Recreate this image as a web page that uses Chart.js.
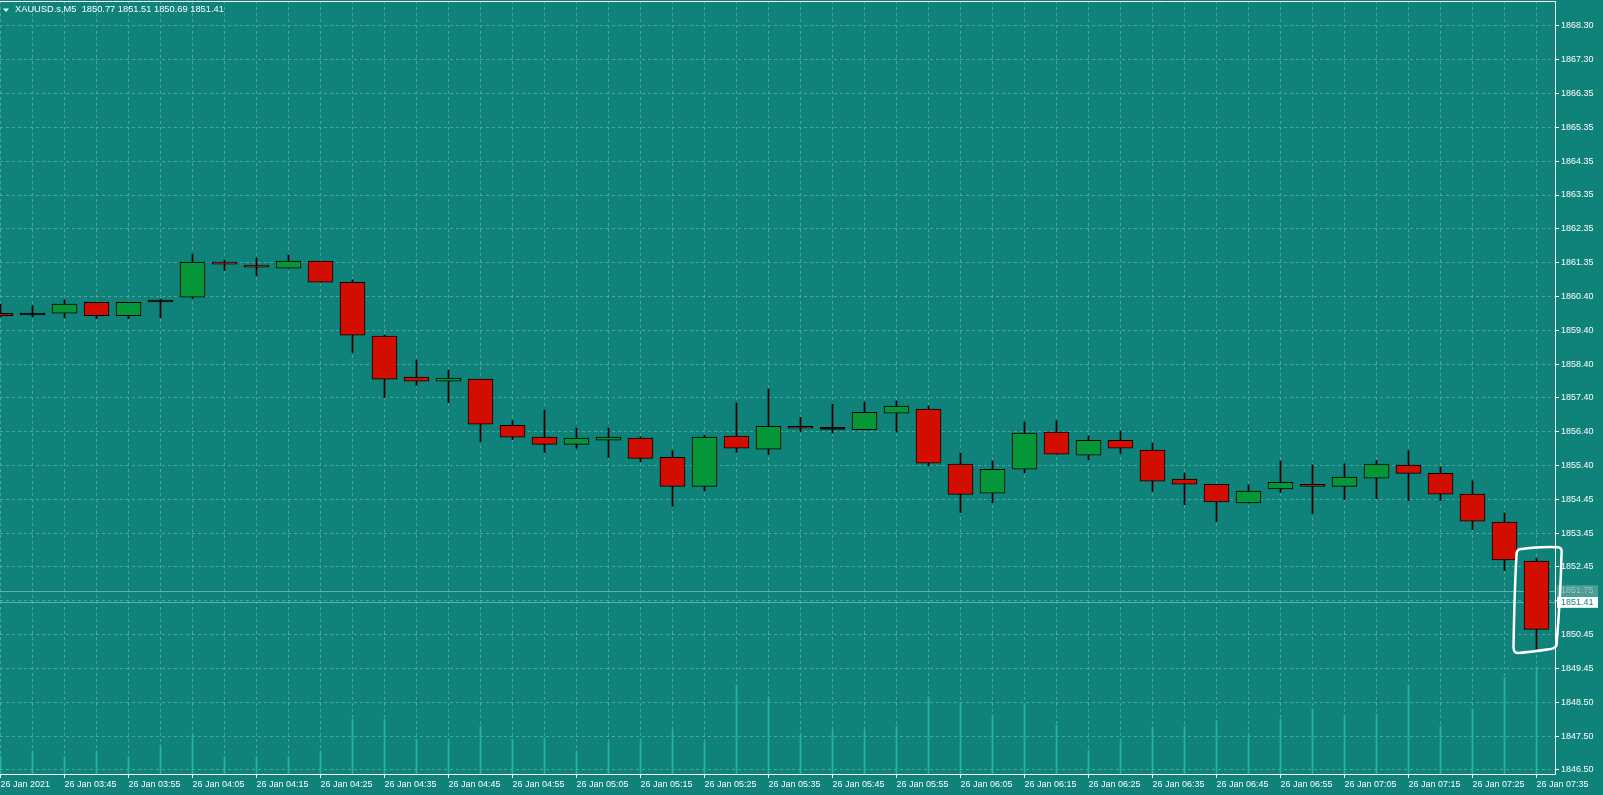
<!DOCTYPE html>
<html>
<head>
<meta charset="utf-8">
<script src="https://cdn.jsdelivr.net/npm/chart.js@4/dist/chart.umd.min.js"></script>
<style>
  html, body { margin: 0; padding: 0; background: #0f8279; overflow: hidden; }
  #wrap { position: relative; width: 1603px; height: 795px; }
</style>
</head>
<body>
<div id="wrap"><canvas id="chart"></canvas></div>
<script>
// header line
const symbol = "XAUUSD.s,M5";
const headerQuote = ["1850.77", "1851.51", "1850.69", "1851.41"];

// x axis labels, one every second bar
const timeLabels = [
  "26 Jan 2021", "26 Jan 03:45", "26 Jan 03:55", "26 Jan 04:05", "26 Jan 04:15",
  "26 Jan 04:25", "26 Jan 04:35", "26 Jan 04:45", "26 Jan 04:55", "26 Jan 05:05",
  "26 Jan 05:15", "26 Jan 05:25", "26 Jan 05:35", "26 Jan 05:45", "26 Jan 05:55",
  "26 Jan 06:05", "26 Jan 06:15", "26 Jan 06:25", "26 Jan 06:35", "26 Jan 06:45",
  "26 Jan 06:55", "26 Jan 07:05", "26 Jan 07:15", "26 Jan 07:25", "26 Jan 07:35"
];

// price axis labels, top to bottom (one per grid line)
const yTickLabels = [
  "1868.30", "1867.30", "1866.35", "1865.35", "1864.35", "1863.35", "1862.35", "1861.35",
  "1860.40", "1859.40", "1858.40", "1857.40", "1856.40", "1855.40", "1854.45", "1853.45",
  "1852.45", "1851.45", "1850.45", "1849.45", "1848.50", "1847.50", "1846.50"
];

// M5 bars 03:35 .. 07:35
const opens = [
  1859.88, 1859.84, 1859.88, 1860.20, 1859.81, 1860.22, 1860.35, 1861.38, 1861.29, 1861.20,
  1861.41, 1860.79, 1859.21, 1858.01, 1857.89, 1857.95, 1856.60, 1856.25, 1856.04, 1856.16,
  1856.22, 1855.66, 1854.81, 1856.28, 1855.90, 1856.57, 1856.49, 1856.47, 1856.95, 1857.07,
  1855.46, 1854.61, 1855.31, 1856.40, 1855.72, 1856.16, 1855.87, 1855.02, 1854.87, 1854.32,
  1854.73, 1854.87, 1854.81, 1855.05, 1855.43, 1855.19, 1854.58, 1853.76, 1852.62
];
const highs = [
  1860.15, 1860.10, 1860.27, 1860.20, 1860.20, 1860.29, 1861.62, 1861.44, 1861.50, 1861.59,
  1861.41, 1860.86, 1859.24, 1858.51, 1858.22, 1857.95, 1856.73, 1857.05, 1856.52, 1856.52,
  1856.26, 1855.85, 1856.31, 1857.25, 1857.66, 1856.83, 1857.22, 1857.28, 1857.31, 1857.17,
  1855.79, 1855.55, 1856.70, 1856.73, 1856.29, 1856.43, 1856.08, 1855.20, 1854.87, 1854.85,
  1855.55, 1855.44, 1855.47, 1855.57, 1855.85, 1855.38, 1854.97, 1854.03, 1852.70
];
const lows = [
  1859.78, 1859.78, 1859.75, 1859.72, 1859.72, 1859.75, 1860.31, 1861.13, 1860.98, 1861.20,
  1860.79, 1858.73, 1857.41, 1857.76, 1857.26, 1856.12, 1856.18, 1855.80, 1855.92, 1855.65,
  1855.53, 1854.22, 1854.68, 1855.80, 1855.74, 1856.41, 1856.37, 1856.47, 1856.40, 1855.41,
  1854.04, 1854.33, 1855.21, 1855.75, 1855.59, 1855.77, 1854.66, 1854.27, 1853.78, 1854.32,
  1854.63, 1854.01, 1854.42, 1854.45, 1854.39, 1854.39, 1853.54, 1852.34, 1850.04
];
const closes = [
  1859.81, 1859.83, 1860.15, 1859.81, 1860.20, 1860.21, 1861.38, 1861.32, 1861.23, 1861.41,
  1860.79, 1859.24, 1857.95, 1857.89, 1857.98, 1856.63, 1856.25, 1856.04, 1856.22, 1856.25,
  1855.63, 1854.81, 1856.25, 1855.93, 1856.57, 1856.51, 1856.48, 1856.98, 1857.16, 1855.49,
  1854.57, 1855.31, 1856.37, 1855.75, 1856.16, 1855.93, 1854.96, 1854.87, 1854.35, 1854.67,
  1854.93, 1854.81, 1855.08, 1855.46, 1855.19, 1854.58, 1853.79, 1852.65, 1850.62
];
// tick volumes
const volumes = [
  72, 92, 69, 93, 69, 116, 156, 69, 69, 69,
  92, 220, 220, 140, 140, 192, 140, 145, 92, 125,
  140, 173, 125, 356, 309, 159, 173, 173, 192, 309,
  283, 236, 283, 196, 96, 140, 187, 192, 213, 159,
  220, 260, 236, 240, 356, 192, 260, 385, 429
];

const bidPrice = 1851.41;
const askPrice = 1851.75;

const BG = "#0f8279";
const GRID = "#4ea59e";
const RED = "#d20e00";
const GREEN = "#049638";
const FONT = "'Liberation Sans', Arial, sans-serif";

const idx = opens.map((_, i) => i);
const bodyColors = idx.map(i => {
  if (Math.abs(closes[i] - opens[i]) < 0.015) return "#000";
  return closes[i] > opens[i] ? GREEN : RED;
});

const yTop = parseFloat(yTickLabels[0]);
const yBottom = parseFloat(yTickLabels[yTickLabels.length - 1]);
const yStep = (yTop - yBottom) / (yTickLabels.length - 1);

// 32px per bar, chart area 1555px wide, bar centres on pixel columns
const xMin = -0.5 / 32;
const xMax = xMin + 1555 / 32;

const mtOverlay = {
  id: "mtOverlay",
  beforeDatasetsDraw(chart) {
    const { ctx, chartArea: a, scales: { y } } = chart;
    ctx.save();
    ctx.strokeStyle = "#5fb0a9";
    ctx.lineWidth = 1;
    [askPrice, bidPrice].forEach(p => {
      const py = Math.round(y.getPixelForValue(p)) + 0.5;
      ctx.beginPath();
      ctx.moveTo(a.left, py);
      ctx.lineTo(a.right, py);
      ctx.stroke();
    });
    ctx.restore();
  },
  afterDraw(chart) {
    const { ctx, chartArea: a, scales: { x, y } } = chart;
    ctx.save();

    // frame
    ctx.strokeStyle = "#ffffff";
    ctx.lineWidth = 1;
    ctx.beginPath();
    ctx.moveTo(a.left, a.top + 0.5);
    ctx.lineTo(a.right + 0.5, a.top + 0.5);
    ctx.lineTo(a.right + 0.5, a.bottom + 0.5);
    ctx.lineTo(a.left, a.bottom + 0.5);
    ctx.stroke();

    // price labels on the axis
    ctx.font = "9px " + FONT;
    ctx.textBaseline = "middle";
    ctx.textAlign = "left";
    const askY = y.getPixelForValue(askPrice);
    ctx.fillStyle = "#4d9c97";
    ctx.fillRect(a.right + 2, askY - 5.5, 41, 11);
    ctx.fillStyle = "#8ec7c2";
    ctx.fillText(askPrice.toFixed(2), a.right + 6, askY);
    const bidY = y.getPixelForValue(bidPrice);
    ctx.fillStyle = "#ffffff";
    ctx.fillRect(a.right + 2, bidY - 5.5, 41, 11);
    ctx.fillStyle = BG;
    ctx.fillText(bidPrice.toFixed(2), a.right + 6, bidY);

    // header
    ctx.fillStyle = "#ffffff";
    ctx.beginPath();
    ctx.moveTo(3, 8.5);
    ctx.lineTo(9, 8.5);
    ctx.lineTo(6, 12);
    ctx.closePath();
    ctx.fill();
    ctx.font = "9.3px " + FONT;
    ctx.fillText(symbol + "  " + headerQuote.join(" "), 15, 9.5);

    // hand drawn mark round the last bar
    const last = opens.length - 1;
    const cx = x.getPixelForValue(last);
    const yH = y.getPixelForValue(highs[last]);
    const yL = y.getPixelForValue(lows[last]);
    ctx.strokeStyle = "#ffffff";
    ctx.lineWidth = 2.5;
    ctx.lineJoin = "round";
    ctx.lineCap = "round";
    ctx.beginPath();
    ctx.moveTo(cx - 17, yH - 9);
    ctx.quadraticCurveTo(cx + 5, yH - 12, cx + 22, yH - 11);
    ctx.quadraticCurveTo(cx + 26, yH - 10, cx + 25, yH - 4);
    ctx.quadraticCurveTo(cx + 24, yH + 40, cx + 20, yL - 4);
    ctx.quadraticCurveTo(cx + 19, yL - 1, cx + 14, yL);
    ctx.quadraticCurveTo(cx - 5, yL + 3, cx - 19, yL + 4);
    ctx.quadraticCurveTo(cx - 23, yL + 4, cx - 23, yL - 2);
    ctx.quadraticCurveTo(cx - 22, yH + 30, cx - 20, yH - 3);
    ctx.quadraticCurveTo(cx - 20, yH - 8, cx - 17, yH - 9);
    ctx.stroke();

    ctx.restore();
  }
};

new Chart(document.getElementById("chart"), {
  type: "bar",
  data: {
    datasets: [
      {
        label: "Volume",
        data: idx.map(i => ({ x: i, y: volumes[i] })),
        yAxisID: "yv",
        backgroundColor: "#22b5aa",
        barThickness: 1,
        grouped: false,
        order: 3
      },
      {
        label: "Wick",
        data: idx.map(i => ({ x: i, y: [lows[i], highs[i]] })),
        yAxisID: "y",
        backgroundColor: "#000000",
        barThickness: 1,
        grouped: false,
        order: 2
      },
      {
        label: "Body",
        data: idx.map(i => ({ x: i, y: [opens[i], closes[i]] })),
        yAxisID: "y",
        backgroundColor: bodyColors,
        borderColor: "#000000",
        borderWidth: 1,
        borderSkipped: false,
        minBarLength: 2,
        barThickness: 25,
        grouped: false,
        order: 1
      }
    ]
  },
  options: {
    responsive: true,
    maintainAspectRatio: false,
    animation: false,
    events: [],
    layout: { padding: { top: 1, left: 0, right: 0, bottom: 0 } },
    plugins: {
      legend: { display: false },
      tooltip: { enabled: false },
      title: { display: false }
    },
    scales: {
      x: {
        type: "linear",
        min: xMin,
        max: xMax,
        offset: false,
        afterBuildTicks: (scale) => {
          scale.ticks = idx.map(i => ({ value: i }));
        },
        afterFit: (scale) => {
          scale.height = 21;
          scale.paddingLeft = 0;
          scale.paddingRight = 0;
        },
        grid: {
          offset: false,
          color: GRID,
          lineWidth: 1,
          drawTicks: true,
          tickLength: 4,
          tickColor: (c) => (c.index % 2 === 0 ? "#ffffff" : "rgba(0,0,0,0)"),
          tickBorderDash: []
        },
        border: { display: false, dash: [3, 3] },
        ticks: {
          autoSkip: false,
          maxRotation: 0,
          minRotation: 0,
          align: "start",
          padding: 1,
          color: "#ffffff",
          font: { family: FONT, size: 9 },
          callback: (value, index) => (index % 2 === 0 ? timeLabels[index / 2] : "")
        }
      },
      y: {
        type: "linear",
        position: "right",
        min: 1846.38,
        max: 1869.03,
        afterBuildTicks: (scale) => {
          scale.ticks = yTickLabels.map((_, i) => ({ value: yTop - i * yStep }));
        },
        afterFit: (scale) => {
          scale.width = 48;
          scale.paddingTop = 0;
          scale.paddingBottom = 0;
        },
        grid: {
          color: GRID,
          lineWidth: 1,
          drawTicks: true,
          tickLength: 4,
          tickColor: "#ffffff",
          tickBorderDash: []
        },
        border: { display: false, dash: [3, 3] },
        ticks: {
          padding: 2,
          color: "#ffffff",
          font: { family: FONT, size: 9 },
          callback: (value, index) => yTickLabels[index]
        }
      },
      yv: {
        type: "linear",
        display: false,
        min: 0,
        max: 3092
      }
    }
  },
  plugins: [mtOverlay]
});
</script>
</body>
</html>
